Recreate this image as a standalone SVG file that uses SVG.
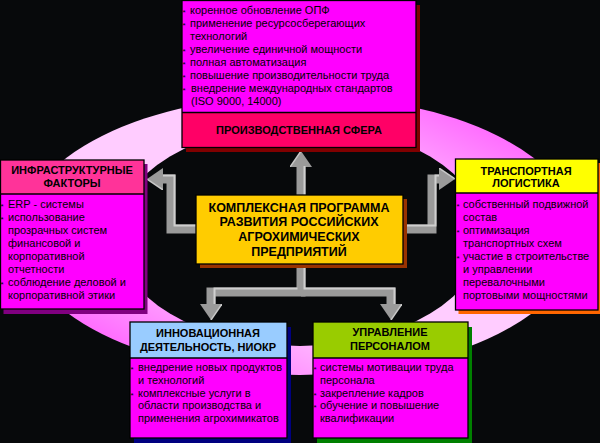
<svg xmlns="http://www.w3.org/2000/svg" width="600" height="443" viewBox="0 0 600 443">
<defs>
<linearGradient id="ring" x1="1" y1="0" x2="0" y2="1">
<stop offset="0" stop-color="#ff33ff"/>
<stop offset="0.38" stop-color="#ffccff"/>
<stop offset="0.62" stop-color="#ffccff"/>
<stop offset="1" stop-color="#ff33ff"/>
</linearGradient>
<marker id="ah" viewBox="0 0 16 22" refX="0" refY="11" markerWidth="16" markerHeight="22" markerUnits="userSpaceOnUse" orient="auto">
<path d="M0,0 L16,11 L0,22 Z" fill="#9a9a9a"/>
<path d="M0,0 L16,11" stroke="#c8c8c8" stroke-width="1.5" fill="none"/>
</marker>
<style>
.ol{fill:none;stroke:#000;stroke-width:1.3}
.dv{stroke:#000;stroke-width:1.3}
.t{font-family:"Liberation Sans",Arial,sans-serif;font-size:11px;fill:#000}
.h{font-family:"Liberation Sans",Arial,sans-serif;font-size:11px;font-weight:bold;text-anchor:middle;fill:#000}
.c{font-family:"Liberation Sans",Arial,sans-serif;font-size:12.5px;font-weight:bold;text-anchor:middle;fill:#000}
.bl{font-family:"Liberation Sans",Arial,sans-serif;font-size:8px;fill:#000}
.ar{fill:none;stroke:#9a9a9a;stroke-width:9;stroke-linejoin:miter;marker-end:url(#ah)}
.hl{fill:none;stroke:#cfcfcf;stroke-width:2;stroke-linejoin:miter}
.mg{fill:#ff00ff}
</style>
</defs>
<rect x="0" y="0" width="600" height="443" fill="#07090b"/>
<g id="ring-bg">
<ellipse cx="300" cy="235" rx="280" ry="140" fill="url(#ring)"/>
<ellipse cx="300" cy="235" rx="184" ry="111" fill="#07090b"/>
</g>
<g id="connectors">
<path class="ar" d="M301,195 V167"/>
<path class="hl" d="M304.5,195 V166"/>
<path class="ar" d="M196,229 H171 V179 H163"/>
<path class="hl" d="M196,225.5 H174.5 V175.5 H163"/>
<path class="ar" d="M403,229 H432 V179 H439"/>
<path class="hl" d="M403,225.5 H435.5 V175.5 H439"/>
<path class="ar" d="M301,268 V292 H211 V304"/>
<path class="ar" d="M301,292 H391 V304"/>
<path class="hl" d="M304.5,268 V288.5 H394.5 V304"/>
<path class="hl" d="M297.5,288.5 H214.5 V304"/>
</g>
<g id="node-top">
<rect x="186" y="5" width="234" height="147" fill="#800000"/>
<rect x="182" y="0.5" width="234" height="112" class="mg"/>
<rect x="182" y="112.5" width="234" height="35" fill="#ff0066"/>
<rect x="182" y="0.5" width="234" height="147" class="ol"/>
<line x1="182" y1="112.5" x2="416" y2="112.5" class="dv"/>
<text class="bl" x="182.5" y="14.5">*</text><text class="t" x="190" y="13.5">коренное обновление ОПФ</text>
<text class="bl" x="182.5" y="27.6">*</text><text class="t" x="190" y="26.6">применение ресурсосберегающих</text>
<text class="t" x="190" y="39.6">технологий</text>
<text class="bl" x="182.5" y="53.7">*</text><text class="t" x="190" y="52.7">увеличение единичной мощности</text>
<text class="bl" x="182.5" y="66.8">*</text><text class="t" x="190" y="65.8">полная автоматизация</text>
<text class="bl" x="182.5" y="79.8">*</text><text class="t" x="190" y="78.8">повышение производительности труда</text>
<text class="bl" x="182.5" y="92.9">*</text><text class="t" x="191" y="91.9">внедрение международных стандартов</text>
<text class="t" x="191" y="105">(ISO 9000, 14000)</text>
<text class="h" x="299" y="134">ПРОИЗВОДСТВЕННАЯ СФЕРА</text>
</g>
<g id="node-left">
<rect x="3.5" y="164" width="144" height="150" fill="#800080"/>
<rect x="0.5" y="160" width="143.5" height="149" class="mg"/>
<rect x="0.5" y="160" width="143.5" height="34" fill="#ff3399"/>
<rect x="0.5" y="160" width="143.5" height="149" class="ol"/>
<line x1="0.5" y1="194" x2="144" y2="194" class="dv"/>
<text class="h" x="72" y="174">ИНФРАСТРУКТУРНЫЕ</text>
<text class="h" x="72" y="187">ФАКТОРЫ</text>
<text class="bl" x="0.5" y="208.5">*</text><text class="t" x="8" y="207.5">ERP - системы</text>
<text class="bl" x="0.5" y="221.5">*</text><text class="t" x="8" y="220.5">использование</text>
<text class="t" x="8" y="233.5">прозрачных систем</text>
<text class="t" x="8" y="246.5">финансовой и</text>
<text class="t" x="8" y="259.5">корпоративной</text>
<text class="t" x="8" y="272.5">отчетности</text>
<text class="bl" x="0.5" y="286.5">*</text><text class="t" x="8" y="285.5">соблюдение деловой и</text>
<text class="t" x="8" y="298.5">корпоративной этики</text>
</g>
<g id="node-right">
<rect x="458.5" y="163" width="143" height="151" fill="#ff6600"/>
<rect x="455.5" y="159" width="142.5" height="151" class="mg"/>
<rect x="455.5" y="159" width="142.5" height="34" fill="#ffff00"/>
<rect x="455.5" y="159" width="142.5" height="151" class="ol"/>
<line x1="455.5" y1="193" x2="598" y2="193" class="dv"/>
<text class="h" x="526" y="175">ТРАНСПОРТНАЯ</text>
<text class="h" x="526" y="187">ЛОГИСТИКА</text>
<text class="bl" x="456.5" y="208.5">*</text><text class="t" x="463" y="207.5">собственный подвижной</text>
<text class="t" x="463" y="220.5">состав</text>
<text class="bl" x="456.5" y="234.5">*</text><text class="t" x="463" y="233.5">оптимизация</text>
<text class="t" x="463" y="246.5">транспортных схем</text>
<text class="bl" x="456.5" y="260.5">*</text><text class="t" x="463" y="259.5">участие  в строительстве</text>
<text class="t" x="463" y="272.5">и  управлении</text>
<text class="t" x="463" y="285.5">перевалочными</text>
<text class="t" x="463" y="298.5">портовыми мощностями</text>
</g>
<g id="node-innov">
<rect x="134" y="327" width="157" height="116" fill="#000080"/>
<rect x="130" y="322" width="157" height="116" class="mg"/>
<rect x="130" y="322" width="157" height="36" fill="#99ccff"/>
<rect x="130" y="322" width="157" height="116" class="ol"/>
<line x1="130" y1="358" x2="287" y2="358" class="dv"/>
<text class="h" x="208" y="337">ИННОВАЦИОННАЯ</text>
<text class="h" x="208" y="351">ДЕЯТЕЛЬНОСТЬ, НИОКР</text>
<text class="bl" x="130.5" y="372">*</text><text class="t" x="138" y="371">внедрение новых продуктов</text>
<text class="t" x="138" y="383.8">и технологий</text>
<text class="bl" x="130.5" y="397.6">*</text><text class="t" x="138" y="396.6">комплексные услуги в</text>
<text class="t" x="138" y="409.4">области производства и</text>
<text class="t" x="138" y="422.2">применения агрохимикатов</text>
</g>
<g id="node-personnel">
<rect x="317" y="327" width="155" height="116" fill="#008000"/>
<rect x="313" y="322" width="155" height="116" class="mg"/>
<rect x="313" y="322" width="155" height="36" fill="#99cc00"/>
<rect x="313" y="322" width="155" height="116" class="ol"/>
<line x1="313" y1="358" x2="468" y2="358" class="dv"/>
<text class="h" x="390" y="336">УПРАВЛЕНИЕ</text>
<text class="h" x="390" y="350">ПЕРСОНАЛОМ</text>
<text class="bl" x="313.5" y="372">*</text><text class="t" x="320" y="371">системы мотивации труда</text>
<text class="t" x="320" y="383.8">персонала</text>
<text class="bl" x="313.5" y="397.6">*</text><text class="t" x="320" y="396.6">закрепление кадров</text>
<text class="bl" x="313.5" y="410.4">*</text><text class="t" x="320" y="409.4">обучение и повышение</text>
<text class="t" x="320" y="422.2">квалификации</text>
</g>
<g id="node-center">
<rect x="200" y="199" width="207" height="69" fill="#993300"/>
<rect x="196" y="195" width="207" height="69" fill="#ffcc00" stroke="#000" stroke-width="1.3"/>
<text class="c" x="299" y="211.5">КОМПЛЕКСНАЯ ПРОГРАММА</text>
<text class="c" x="299" y="225.5">РАЗВИТИЯ РОССИЙСКИХ</text>
<text class="c" x="299" y="240.5">АГРОХИМИЧЕСКИХ</text>
<text class="c" x="299" y="255.5">ПРЕДПРИЯТИЙ</text>
</g>
</svg>
